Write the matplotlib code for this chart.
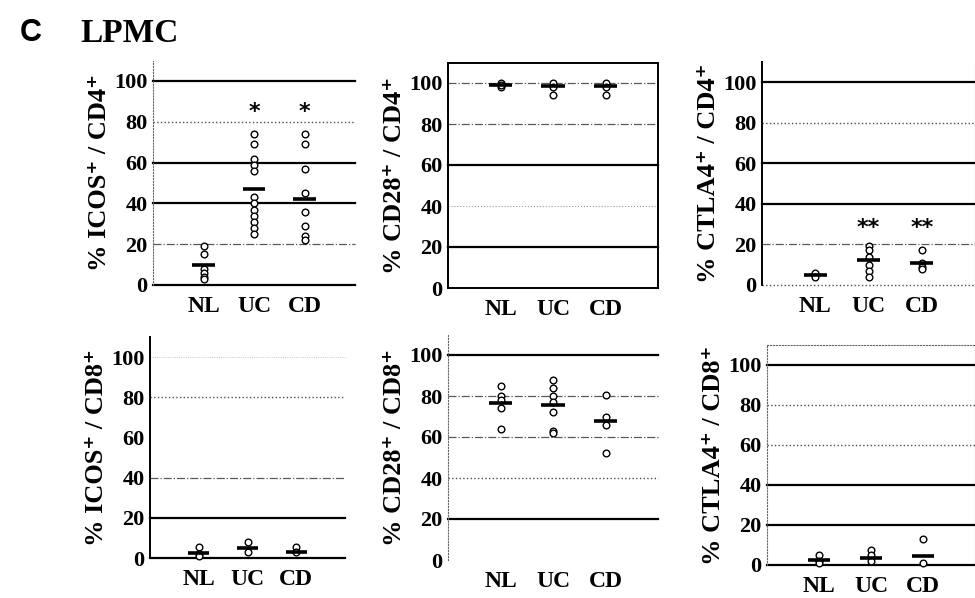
import numpy as np
import matplotlib.pyplot as plt

plt.rcParams['font.family'] = ['Liberation Serif', 'DejaVu Serif']
plt.rcParams['font.weight'] = 'bold'

groups = ['NL', 'UC', 'CD']

# values (% positive cells)
icos_cd4 = [[19, 15, 8, 6, 4, 3],
            [74, 69, 62, 59, 56, 43, 40, 37, 34, 31, 28, 25],
            [74, 69, 57, 45, 36, 29, 24, 22]]
icos_cd4_mean = [10, 47, 42]

cd28_cd4 = [[99, 100, 98, 99], [99, 100, 98, 94], [99, 100, 98, 94]]
cd28_cd4_mean = [99, 98.5, 98.5]

ctla4_cd4 = [[5, 6, 4], [19, 17, 14, 10, 7, 4], [17, 11, 9, 8]]
ctla4_cd4_mean = [5, 12.5, 11]

icos_cd8 = [[5.5, 2, 1], [8, 3], [5.5, 3]]
icos_cd8_mean = [2.5, 5, 3]

cd28_cd8 = [[85, 80, 78, 74, 64],
            [88, 84, 80, 77, 72, 63, 62],
            [80.5, 70, 66, 52]]
cd28_cd8_mean = [76.5, 75.5, 68]

ctla4_cd8 = [[5, 2, 1], [7.5, 5, 2], [13, 1]]
ctla4_cd8_mean = [2.5, 3.5, 4.5]

stars_cd4 = {'icos': ['', '*', '*'], 'ctla4': ['', '**', '**']}

ylabels = ['% ICOS⁺ / CD4⁺', '% CD28⁺ / CD4⁺', '% CTLA4⁺ / CD4⁺',
           '% ICOS⁺ / CD8⁺', '% CD28⁺ / CD8⁺', '% CTLA4⁺ / CD8⁺']

W, H = 975, 598
fig = plt.figure(figsize=(W / 100, H / 100), dpi=100)

fig.text(20 / W, 1 - 33 / H, 'C', family='Liberation Sans', weight='bold',
         fontsize=22, va='center')
fig.text(80 / W, 1 - 33 / H, 'LPMC', weight='bold', fontsize=24, va='center')

# pixel boxes: left, right, bottom(=0), px per unit
boxes = [(153, 355, 285, 2.04), (448, 658, 288, 2.05), (762, 975, 285, 2.03),
         (150, 345, 558, 2.01), (448, 658, 560, 2.05), (767, 975, 565, 2.00)]

# gridline styles per panel: value -> (linestyle, linewidth, colour)
S = ('-', 1.6, 'black')
D = (':', 1.0, '0.3')
DD = ('-.', 0.9, '0.35')
grids = [
    {100: S, 80: D, 60: S, 40: S, 20: DD, 0: S},
    {100: DD, 80: DD, 60: S, 40: (':', 0.8, '0.6'), 20: S},
    {100: S, 80: D, 60: S, 40: S, 20: DD, 0: D},
    {100: (':', 0.6, '0.7'), 80: D, 40: DD, 20: S, 0: S},
    {100: S, 80: DD, 60: DD, 40: D, 20: S},
    {100: S, 80: D, 60: D, 40: S, 20: S, 0: S},
]
spine_styles = ['dotted', 'box', 'left', 'left', 'dotted', 'dotted']

panels = [(icos_cd4, icos_cd4_mean, stars_cd4['icos'], 85),
          (cd28_cd4, cd28_cd4_mean, None, 0),
          (ctla4_cd4, ctla4_cd4_mean, stars_cd4['ctla4'], 28),
          (icos_cd8, icos_cd8_mean, None, 0),
          (cd28_cd8, cd28_cd8_mean, None, 0),
          (ctla4_cd8, ctla4_cd8_mean, None, 0)]

xpos = np.arange(1, 4)
for i, (vals, means, stars, star_y) in enumerate(panels):
    l, r, b, ppu = boxes[i]
    top = b - 110 * ppu
    ax = fig.add_axes([l / W, 1 - b / H, (r - l) / W, (b - top) / H])
    ax.set_xlim(0, 4)
    ax.set_ylim(0, 110)

    for yv, (ls, lw, c) in grids[i].items():
        ax.axhline(yv, ls=ls, lw=lw, color=c, zorder=1, clip_on=False)

    for x, v, m in zip(xpos, vals, means):
        ax.plot([x] * len(v), v, 'o', ms=4.8, mfc='white', mec='black',
                mew=1.0, zorder=3, clip_on=False)
        ax.plot([x - 0.22, x + 0.22], [m, m], color='black', lw=2.6,
                solid_capstyle='butt', zorder=4)
    if stars:
        for x, s in zip(xpos, stars):
            ax.text(x, star_y, s, ha='center', va='center', fontsize=16,
                    family='DejaVu Sans', weight='bold')

    for sp in ax.spines.values():
        sp.set_visible(False)
    st = spine_styles[i]
    if st == 'box':
        for sp in ax.spines.values():
            sp.set_visible(True)
            sp.set_linewidth(1.4)
    elif st == 'left':
        ax.spines['left'].set_visible(True)
        ax.spines['left'].set_linewidth(1.4)
        if i == 2:
            ax.spines['right'].set_visible(True)
            ax.spines['right'].set_linestyle(':')
            ax.spines['right'].set_color('0.4')
    else:
        ax.spines['left'].set_visible(True)
        ax.spines['left'].set_linestyle(':')
        ax.spines['left'].set_color('0.4')
        if i == 5:
            for k in ('top', 'right'):
                ax.spines[k].set_visible(True)
                ax.spines[k].set_linestyle(':')
                ax.spines[k].set_color('0.4')

    ax.set_yticks([0, 20, 40, 60, 80, 100])
    ax.set_xticks(xpos)
    ax.set_xticklabels(groups)
    ax.tick_params(axis='y', length=0, pad=4, labelsize=16)
    ax.tick_params(axis='x', length=0, pad=8, labelsize=17)
    for t in ax.get_yticklabels() + ax.get_xticklabels():
        t.set_fontweight('bold')
    ax.set_ylabel(ylabels[i], fontsize=19, fontweight='bold', labelpad=2)
    ax.set_facecolor('none')

fig.savefig('out.png', dpi=100)
